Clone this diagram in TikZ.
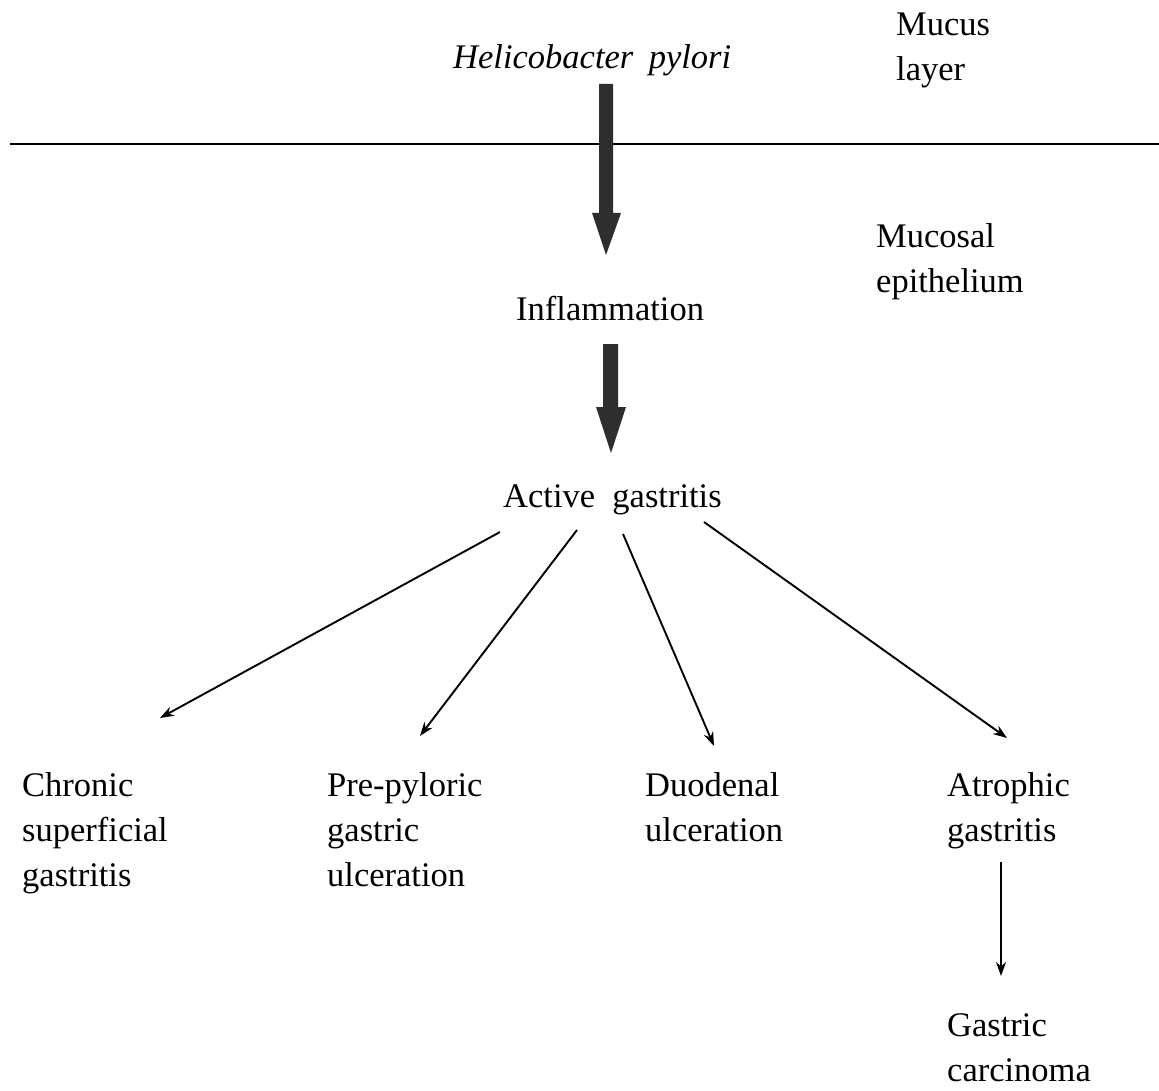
\documentclass[tikz,border=0pt]{standalone}
\usepackage{fontspec}
\setmainfont{Liberation Serif}
\usetikzlibrary{arrows.meta}
\begin{document}
\begin{tikzpicture}[x=1pt,y=-1pt,
  lbl/.style={inner sep=0pt,anchor=base west,align=left,
    font=\fontsize{34.5}{45}\selectfont},
  thin/.style={line width=1.9pt,-{Stealth[length=14pt,width=10pt]}},
  bigarrow/.style={fill=black!82,draw=none}]
\useasboundingbox (0,0) rectangle (1159,1091);
% texts (anchor = baseline of last line)
\node[lbl] (hp) at (453,69) {\itshape Helicobacter\hspace{0.45em}pylori};
\node[lbl] (mucus) at (896,81) {Mucus\\layer};
\node[lbl] (mucosal) at (876,293) {Mucosal\\epithelium};
\node[lbl] (infl) at (516,320) {Inflammation};
\node[lbl] (active) at (503,507) {Active\hspace{0.5em}gastritis};
\node[lbl] (chronic) at (22,886) {Chronic\\superficial\\gastritis};
\node[lbl] (prepyl) at (327,886) {Pre-pyloric\\gastric\\ulceration};
\node[lbl] (duod) at (645,841) {Duodenal\\ulceration};
\node[lbl] (atroph) at (947,841) {Atrophic\\gastritis};
\node[lbl] (carc) at (947,1081) {Gastric\\carcinoma};
% boundary line
\coordinate (bl) at (10,144);
\coordinate (br) at (1159,144);
\draw[line width=1.3pt] (bl) -- (br);
% thick arrows
\fill[bigarrow] (599,84) -- (613,84) -- (613,213) -- (621,213) -- (606,255)
  -- (592,213) -- (599,213) -- cycle;
\fill[bigarrow] (603,344) -- (618,344) -- (618,407) -- (626,407) -- (611,453)
  -- (596,407) -- (603,407) -- cycle;
% thin arrows
\coordinate (s1) at (500,532); \coordinate (e1) at (160,718);
\coordinate (s2) at (577,530); \coordinate (e2) at (420,736);
\coordinate (s3) at (623,534); \coordinate (e3) at (714,746);
\coordinate (s4) at (704,522); \coordinate (e4) at (1007,738);
\coordinate (s5) at (1001,862); \coordinate (e5) at (1001,976);
\draw[thin] (s1) -- (e1);
\draw[thin] (s2) -- (e2);
\draw[thin] (s3) -- (e3);
\draw[thin] (s4) -- (e4);
\draw[thin] (s5) -- (e5);
\end{tikzpicture}
\end{document}
